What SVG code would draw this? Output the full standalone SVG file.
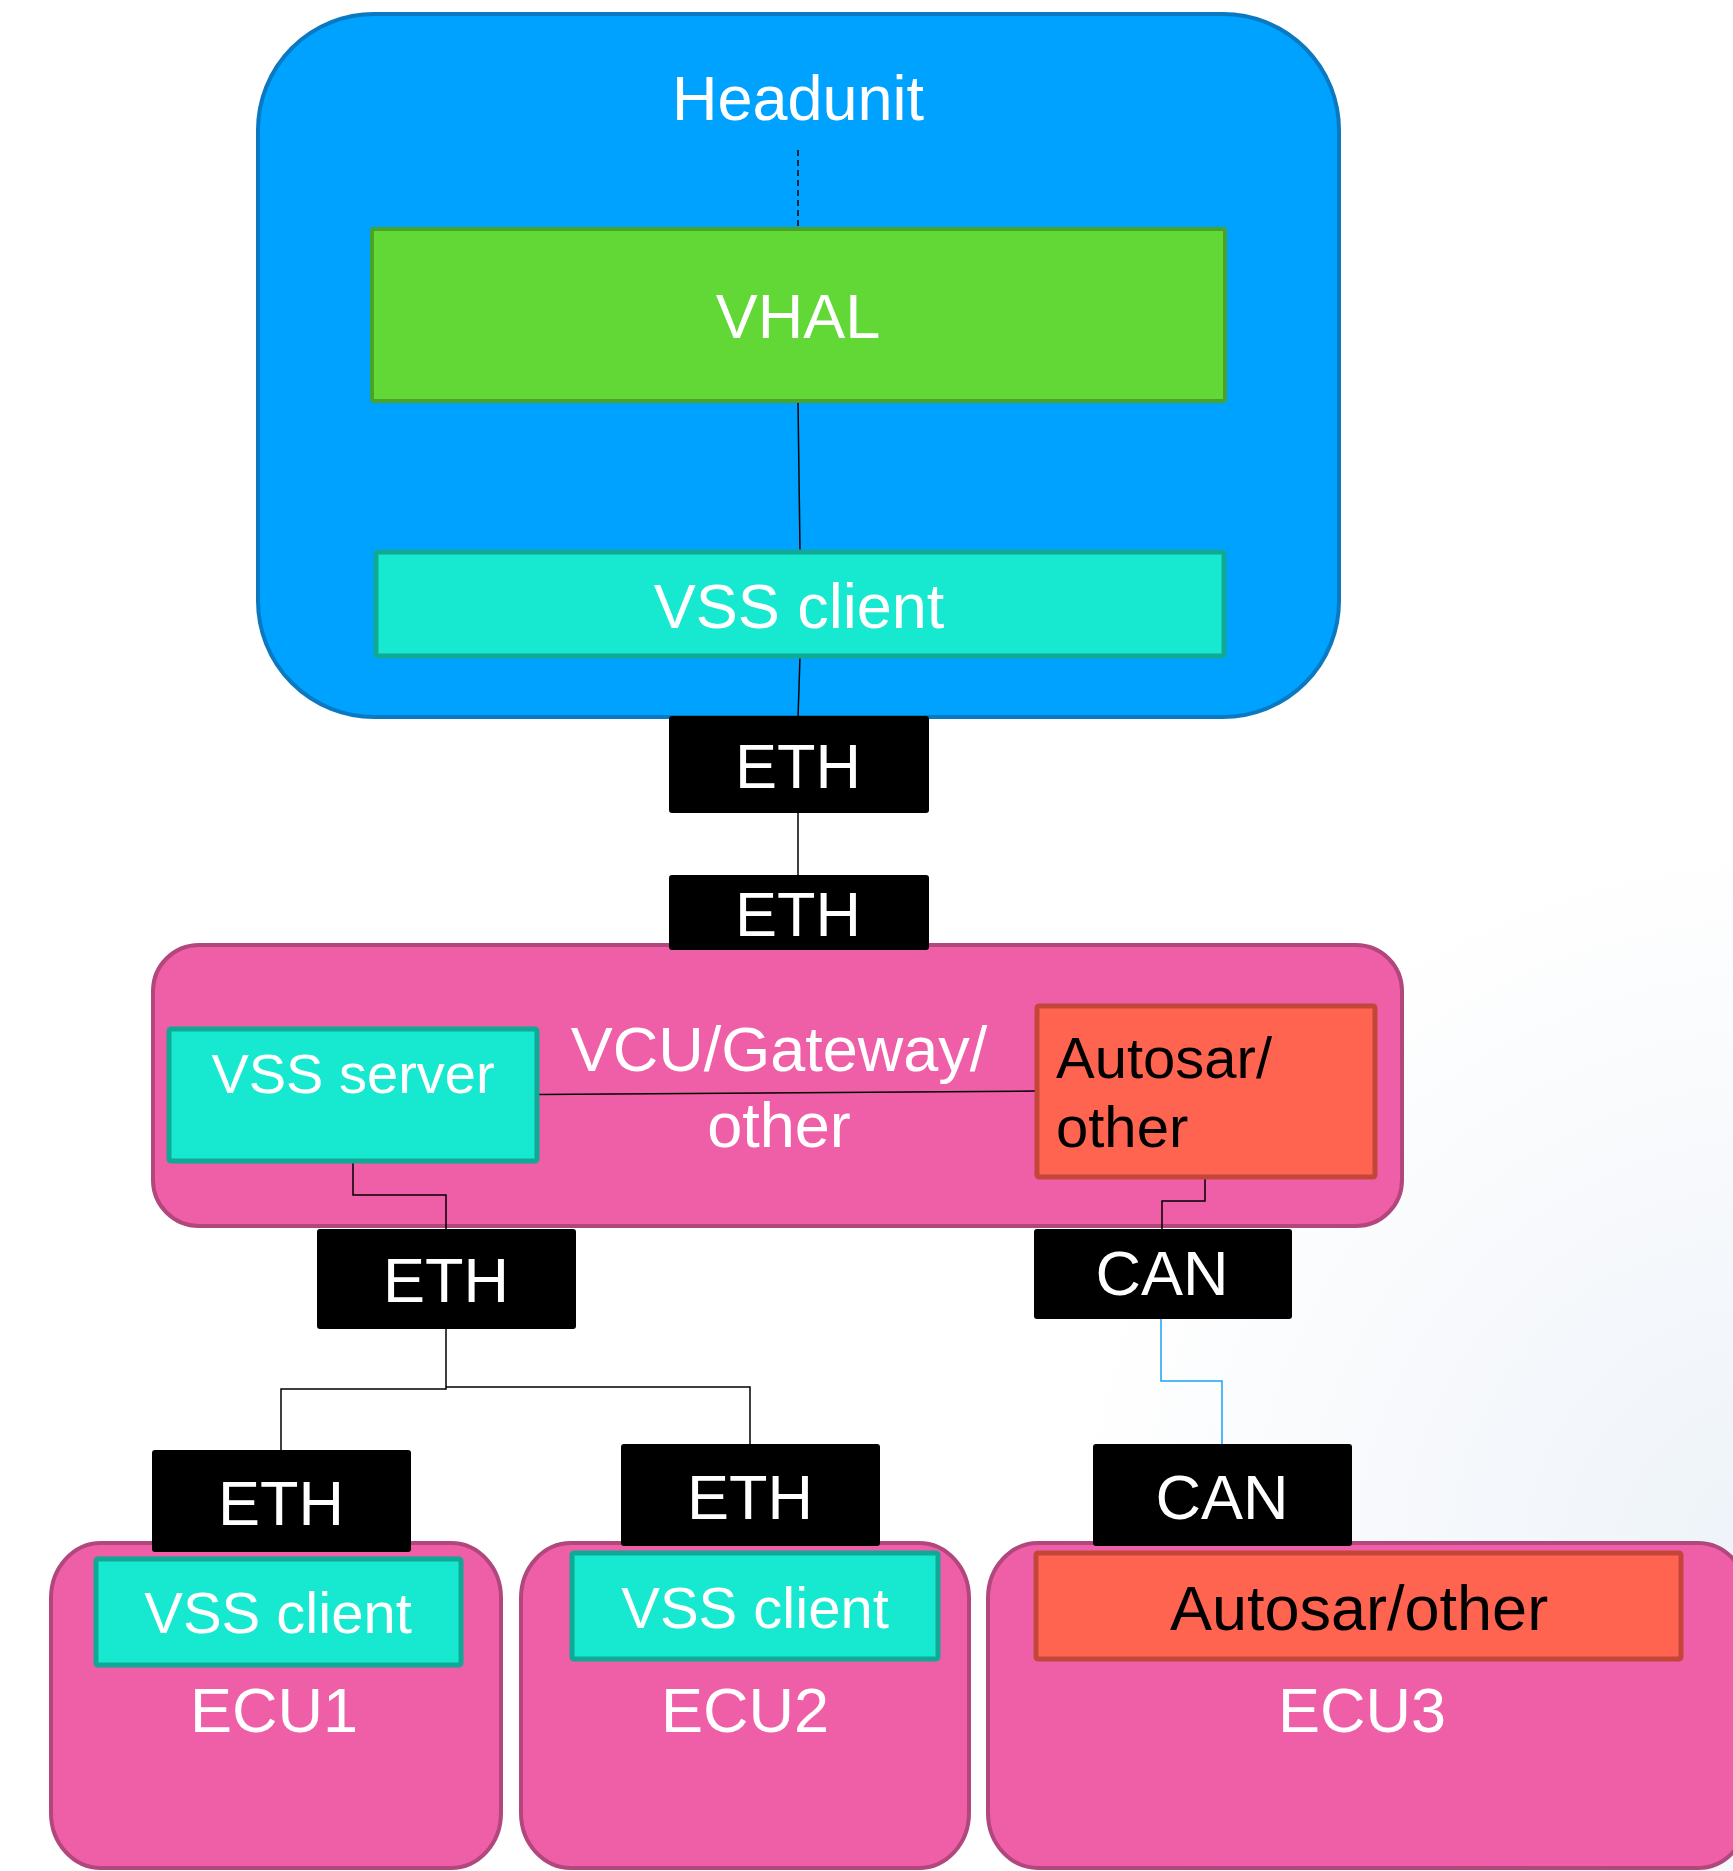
<svg xmlns="http://www.w3.org/2000/svg" width="1733" height="1871" viewBox="0 0 1733 1871">
  <defs>
    <radialGradient id="bgShade" cx="1780" cy="1560" r="720" gradientUnits="userSpaceOnUse">
      <stop offset="0" stop-color="#edf3f9"/>
      <stop offset="0.55" stop-color="#f7f9fc"/>
      <stop offset="1" stop-color="#ffffff"/>
    </radialGradient>
    <style>
      text { font-family: "Liberation Sans", Arial, sans-serif; }
      .head { fill: #00a2ff; stroke: #0b79c2; stroke-width: 4; }
      .unit { fill: #ef5fa7; stroke: #b2477d; stroke-width: 4; }
      .vhal { fill: #62d836; stroke: #47a32a; stroke-width: 4; }
      .vss  { fill: #17e8d0; stroke: #10a995; stroke-width: 5; }
      .auto { fill: #ff6450; stroke: #c4463a; stroke-width: 5; }
      .bus  { fill: #000000; }
      .lbl  { fill: #ffffff; font-size: 63px; text-anchor: middle; }
      .small { font-size: 58px; }
      .dark { fill: #000000; }
      .wire { fill: none; stroke: #000000; stroke-width: 1.5; }
      .can  { fill: none; stroke: #1ba1f5; stroke-width: 1.5; }
      .dash { fill: none; stroke: #000000; stroke-width: 1.5; stroke-dasharray: 6 4; }
    </style>
  </defs>

  <!-- page background -->
  <rect x="0" y="0" width="1733" height="1871" fill="url(#bgShade)"/>

  <!-- containers -->
  <g id="headunit">
    <rect class="head" x="258" y="14" width="1081" height="703" rx="116" ry="116"/>
    <text class="lbl" x="798" y="120">Headunit</text>
  </g>

  <g id="vcu">
    <rect class="unit" x="153" y="945" width="1249" height="281" rx="46" ry="46"/>
    <text class="lbl" x="779" y="1071">VCU/Gateway/</text>
    <text class="lbl" x="779" y="1147">other</text>
  </g>

  <g id="ecu1">
    <rect class="unit" x="51" y="1543" width="450" height="325" rx="50" ry="55"/>
    <text class="lbl" x="274" y="1732">ECU1</text>
  </g>

  <g id="ecu2">
    <rect class="unit" x="521" y="1543" width="448" height="325" rx="50" ry="55"/>
    <text class="lbl" x="745" y="1732">ECU2</text>
  </g>

  <g id="ecu3">
    <rect class="unit" x="988" y="1543" width="760" height="325" rx="50" ry="55"/>
    <text class="lbl" x="1362" y="1732">ECU3</text>
  </g>

  <!-- connectors -->
  <g id="connectors">
    <line class="dash" x1="798" y1="150" x2="798" y2="226"/>
    <line class="wire" x1="798" y1="402" x2="800" y2="550"/>
    <line class="wire" x1="800" y1="657" x2="798" y2="718"/>
    <line class="wire" x1="798" y1="812" x2="798" y2="876"/>
    <line class="wire" x1="538" y1="1094.5" x2="1036" y2="1091"/>
    <polyline class="wire" points="353,1163 353,1195 446,1195 446,1229"/>
    <polyline class="wire" points="1205,1178 1205,1201 1162,1201 1162,1229"/>
    <polyline class="wire" points="446,1328 446,1389 281,1389 281,1450"/>
    <polyline class="wire" points="446,1387 750,1387 750,1445"/>
    <polyline class="can" points="1161,1318 1161,1381 1222,1381 1222,1445"/>
  </g>

  <!-- headunit internals -->
  <g id="vhal">
    <rect class="vhal" x="372" y="229" width="853" height="172" rx="2"/>
    <text class="lbl" x="798" y="338">VHAL</text>
  </g>

  <g id="hu-vss-client">
    <rect class="vss" x="376" y="552" width="848" height="104" rx="2"/>
    <text class="lbl" x="799" y="628">VSS client</text>
  </g>

  <!-- gateway internals -->
  <g id="vss-server">
    <rect class="vss" x="169" y="1029" width="368" height="132" rx="2"/>
    <text class="lbl" x="353" y="1093" style="font-size:56px">VSS server</text>
  </g>

  <g id="gw-autosar">
    <rect class="auto" x="1037" y="1006" width="338" height="171" rx="2"/>
    <text class="dark" x="1056" y="1078" style="font-size:58px">Autosar/</text>
    <text class="dark" x="1056" y="1147" style="font-size:58px">other</text>
  </g>

  <!-- bus ports -->
  <g id="eth-hu">
    <rect class="bus" x="669" y="716" width="260" height="97" rx="3"/>
    <text class="lbl" x="798" y="788">ETH</text>
  </g>

  <g id="eth-gw-up">
    <rect class="bus" x="669" y="875" width="260" height="75" rx="3"/>
    <text class="lbl" x="798" y="936">ETH</text>
  </g>

  <g id="eth-gw-down">
    <rect class="bus" x="317" y="1229" width="259" height="100" rx="3"/>
    <text class="lbl" x="446" y="1302">ETH</text>
  </g>

  <g id="can-gw">
    <rect class="bus" x="1034" y="1229" width="258" height="90" rx="3"/>
    <text class="lbl" x="1162" y="1295">CAN</text>
  </g>

  <g id="eth-ecu1">
    <rect class="bus" x="152" y="1450" width="259" height="102" rx="3"/>
    <text class="lbl" x="281" y="1525">ETH</text>
  </g>

  <g id="eth-ecu2">
    <rect class="bus" x="621" y="1444" width="259" height="102" rx="3"/>
    <text class="lbl" x="750" y="1519">ETH</text>
  </g>

  <g id="can-ecu3">
    <rect class="bus" x="1093" y="1444" width="259" height="102" rx="3"/>
    <text class="lbl" x="1222" y="1519">CAN</text>
  </g>

  <!-- ECU internals -->
  <g id="ecu1-vss-client">
    <rect class="vss" x="96" y="1559" width="365" height="106" rx="2"/>
    <text class="lbl small" x="278" y="1633">VSS client</text>
  </g>

  <g id="ecu2-vss-client">
    <rect class="vss" x="572" y="1553" width="366" height="106" rx="2"/>
    <text class="lbl small" x="755" y="1628">VSS client</text>
  </g>

  <g id="ecu3-autosar">
    <rect class="auto" x="1036" y="1553" width="645" height="106" rx="2"/>
    <text class="dark" x="1359" y="1630" style="font-size:63px" text-anchor="middle">Autosar/other</text>
  </g>
</svg>
